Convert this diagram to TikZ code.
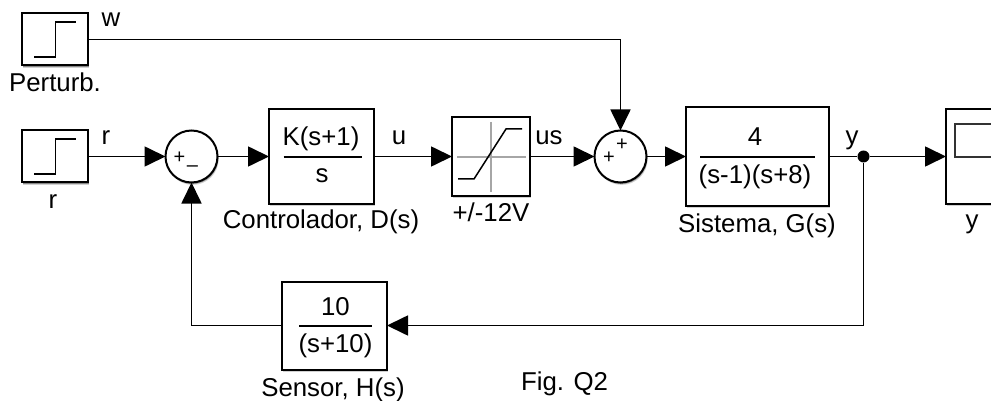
\documentclass[tikz,border=0pt]{standalone}
\usepackage{fontspec}
\setmainfont{Liberation Sans}
\usetikzlibrary{arrows.meta,shadows}
\tikzset{
  softshadow/.style={
    drop shadow={shadow xshift=1.2pt,shadow yshift=-2.4pt,opacity=.18,fill=black},
    drop shadow={shadow xshift=.8pt,shadow yshift=-1.4pt,opacity=.35,fill=black}},
  blockbox/.style={draw=black,line width=2pt,fill=white,rectangle,inner sep=0pt,outer sep=0pt,softshadow},
  sumbox/.style={draw=black,line width=2pt,fill=white,circle,inner sep=0pt,outer sep=0pt,minimum size=52pt,softshadow},
  wire/.style={draw=black,line width=1.7pt,line join=miter},
  arrowwire/.style={wire,-{Triangle[length=21pt,width=20pt]}},
  lbl/.style={font=\fontsize{25.8}{29}\selectfont,anchor=base,inner sep=0pt,text=black},
  signlbl/.style={font=\fontsize{20}{22}\selectfont,inner sep=0pt,text=black},
  barline/.style={draw=black,line width=1.4pt},
  iconline/.style={draw=black,line width=1.5pt},
  greyline/.style={draw=black!35,line width=1.4pt},
}
\begin{document}
\begin{tikzpicture}[x=1pt,y=-1pt]
\useasboundingbox (0,0) rectangle (991,401);
\fill[white] (0,0) rectangle (991,401);
\clip (0,0) rectangle (991,401);
% blocks
\node[blockbox,minimum width=66pt,minimum height=52pt] (pert) at (55,39.5) {};
\node[blockbox,minimum width=66pt,minimum height=52pt] (ref) at (55,156.5) {};
\node[sumbox] (sa) at (191.5,156.5) {};
\node[blockbox,minimum width=105pt,minimum height=94pt] (ctrl) at (321.5,156.5) {};
\node[blockbox,minimum width=78pt,minimum height=78pt] (sat) at (491,156.5) {};
\node[sumbox] (sb) at (620.5,156.5) {};
\node[blockbox,minimum width=143pt,minimum height=99pt] (sys) at (757.5,156.5) {};
\node[blockbox,minimum width=65pt,minimum height=94pt] (scope) at (978.5,156.5) {};
\node[blockbox,minimum width=105pt,minimum height=88pt] (sens) at (334.5,325.5) {};
\node[circle,fill=black,inner sep=0pt,minimum size=12pt] (dot) at (863.5,156.5) {};
% icons
\draw[iconline] (34,57) -- (55.5,57) -- (55.5,22) -- (76,22);
\draw[iconline] (34,174) -- (55.5,174) -- (55.5,139) -- (76,139);
\draw[greyline] (491,122) -- (491,192);
\draw[greyline] (457,157) -- (526,157);
\draw[iconline] (458,179) -- (474,179) -- (506,129) -- (522,129);
\draw[line width=1.3pt,draw=black!80,fill=white] (955,124) rectangle (1005,157);
% fraction bars
\draw[barline] (283.5,157) -- (362,157);
\draw[barline] (700,157) -- (814.5,157);
\draw[barline] (299,326) -- (372,326);
% wires
\draw[arrowwire] (pert.east) -| (sb.north);
\draw[arrowwire] (ref.east) -- (sa.west);
\draw[arrowwire] (sa.east) -- (ctrl.west);
\draw[arrowwire] (ctrl.east) -- (sat.west);
\draw[arrowwire] (sat.east) -- (sb.west);
\draw[arrowwire] (sb.east) -- (sys.west);
\draw[wire] (sys.east) -- (dot);
\draw[arrowwire] (dot) -- (scope.west);
\draw[arrowwire] (dot) |- (sens.east);
\draw[arrowwire] (sens.west) -| (sa.south);
% signs
\node[signlbl] (sa1) at (179.5,158) {+};
\node[signlbl] (sa2) at (192.5,169) {–};
\node[signlbl] (sb1) at (609,158) {+};
\node[signlbl] (sb2) at (622,144.5) {+};
% block texts
\node[lbl] (t1) at (321,146) {K(s+1)};
\node[lbl] (t2) at (322,182.5) {s};
\node[lbl] (t3) at (755,146) {4};
\node[lbl] (t4) at (755,183.5) {(s-1)(s+8)};
\node[lbl] (t5) at (335.5,315) {10};
\node[lbl] (t6) at (335.5,352) {(s+10)};
% labels
\node[lbl] (l1) at (111,27) {w};
\node[lbl] (l2) at (106,145) {r};
\node[lbl] (l3) at (399,144.5) {u};
\node[lbl] (l4) at (549,144.5) {us};
\node[lbl] (l5) at (852,145) {y};
\node[lbl] (l6) at (55,92) {Perturb.};
\node[lbl] (l7) at (53,208) {r};
\node[lbl] (l8) at (321,229) {Controlador, D(s)};
\node[lbl] (l9) at (491,222) {+/-12V};
\node[lbl] (l10) at (757,233) {Sistema, G(s)};
\node[lbl] (l11) at (972,229) {y};
\node[lbl] (l12) at (333,396) {Sensor, H(s)};
\node[lbl] (l13) at (564.5,390) {Fig. Q2};
\end{tikzpicture}
\end{document}
